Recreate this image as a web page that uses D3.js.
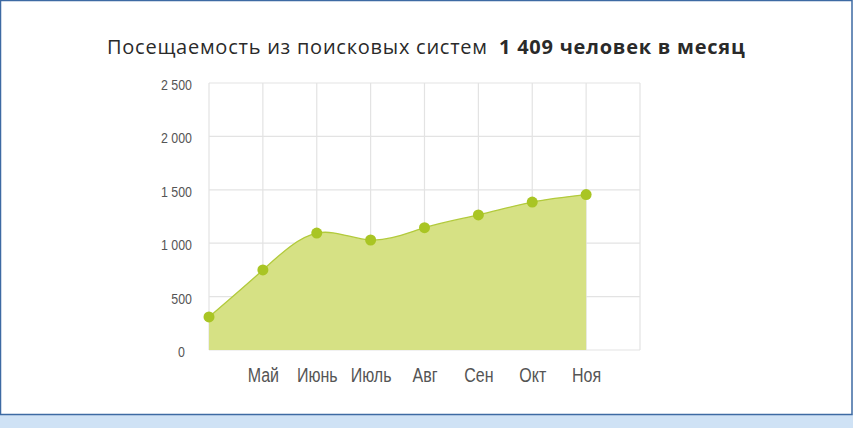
<!DOCTYPE html>
<html>
<head>
<meta charset="utf-8">
<script src="https://cdn.jsdelivr.net/npm/d3@7"></script>
<style>
    body { margin: 0; background: #fff; }
    svg { display: block; }
    .tick text { font-family: 'Liberation Sans', Arial, sans-serif; fill: #555; }
</style>
</head>
<body>
<svg id="chart" width="853" height="428"></svg>
<script>
// data
const months = ['Апр', 'Май', 'Июнь', 'Июль', 'Авг', 'Сен', 'Окт', 'Ноя', 'Дек'];
const monthLabels = ['', 'Май', 'Июнь', 'Июль', 'Авг', 'Сен', 'Окт', 'Ноя', ''];
const visits = [310, 750, 1095, 1030, 1145, 1265, 1385, 1455];
const yTicks = [0, 500, 1000, 1500, 2000, 2500];
const yTickLabels = ['0', '500', '1 000', '1 500', '2 000', '2 500'];

const svg = d3.select('#chart');
const W = 853, H = 428;

// bottom strip + frame
svg.append('rect').attr('x', 0).attr('y', 414).attr('width', W).attr('height', H - 414).attr('fill', '#cfe2f5');
svg.append('rect').attr('x', 0.5).attr('y', 0.5).attr('width', W - 1.5).attr('height', 414)
    .attr('fill', '#fff').attr('stroke', '#3d6aa3').attr('stroke-width', 1.5);

const margin = { left: 209, right: 640, top: 83, bottom: 350 };

const x = d3.scalePoint()
    .domain(months)
    .range([margin.left, margin.right]);
const y = d3.scaleLinear()
    .domain([0, 2500])
    .range([margin.bottom, margin.top]);

// grid
const grid = svg.append('g');
grid.selectAll('line.h')
    .data(yTicks)
    .enter()
    .append('line')
    .attr('x1', margin.left).attr('x2', margin.right)
    .attr('y1', d => y(d)).attr('y2', d => y(d))
    .style('stroke', '#e3e3e3').style('stroke-width', 1.2);
grid.selectAll('line.v')
    .data(months)
    .enter()
    .append('line')
    .attr('x1', d => x(d)).attr('x2', d => x(d))
    .attr('y1', margin.top).attr('y2', margin.bottom)
    .style('stroke', '#e3e3e3').style('stroke-width', 1.2);

// axes (labels only), condensed look via scaleX
const squeeze = 0.8;
const yAxis = svg.append('g')
    .attr('transform', `translate(${margin.left},0)`)
    .call(d3.axisLeft(y).tickValues(yTicks).tickSize(0)
        .tickFormat((d, i) => yTickLabels[i]));
yAxis.select('.domain').remove();
yAxis.selectAll('text')
    .style('font-size', '15.5px')
    .attr('x', d => (d === 0 ? -24 : -17) / squeeze)
    .attr('dy', 6.5)
    .attr('transform', `scale(${squeeze},1)`);

const xAxis = svg.append('g')
    .attr('transform', `translate(0,${margin.bottom})`)
    .call(d3.axisBottom(x).tickSize(0)
        .tickFormat((d, i) => monthLabels[i]));
xAxis.select('.domain').remove();
xAxis.selectAll('text')
    .style('font-size', '20px')
    .attr('y', 32)
    .attr('dy', 0)
    .attr('transform', `scale(${squeeze},1)`);

const pts = visits.map((v, i) => [months[i], v]);
const curve = d3.curveNatural;

const area = d3.area()
    .x(d => x(d[0]))
    .y0(y(0))
    .y1(d => y(d[1]))
    .curve(curve);
const line = d3.line()
    .x(d => x(d[0]))
    .y(d => y(d[1]))
    .curve(curve);

svg.append('path').datum(pts).attr('d', area).attr('fill', '#d6e184');
svg.append('path').datum(pts).attr('d', line)
    .attr('fill', 'none').attr('stroke', '#b2ca3c').attr('stroke-width', 1.3);

svg.selectAll('circle.pt')
    .data(pts)
    .enter()
    .append('circle')
    .attr('cx', d => x(d[0]))
    .attr('cy', d => y(d[1]))
    .attr('r', 5.5)
    .attr('fill', '#a9c524');

// title
const titleStyle = sel => sel
    .style('font-family', "'Open Sans', sans-serif")
    .style('font-size', '20px')
    .style('letter-spacing', '0.75px')
    .style('fill', '#2a2a2a');
svg.append('text').attr('x', 107).attr('y', 54).call(titleStyle)
    .text('Посещаемость из поисковых систем');
svg.append('text').attr('x', 499).attr('y', 54).call(titleStyle)
    .style('font-weight', 'bold')
    .text('1 409 человек в месяц');
</script>
</body>
</html>
